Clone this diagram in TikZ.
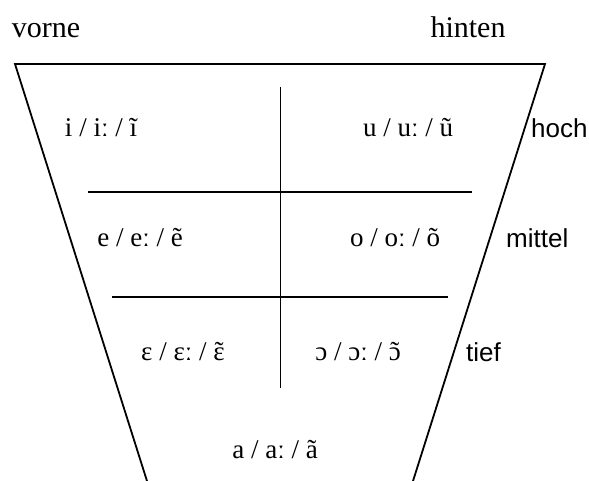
\documentclass[tikz,border=0pt]{standalone}
\usepackage{fontspec}
\setmainfont{Liberation Serif}
\setsansfont{Liberation Sans}
\usetikzlibrary{positioning}
\newcommand{\nasal}[1]{{\accent"02DC #1}}
\tikzset{
  rahmen/.style={line width=1.8pt, line cap=butt},
  achse/.style={font=\fontsize{30}{34}\selectfont, inner sep=0pt, anchor=base},
  laut/.style={font=\fontsize{27}{31}\selectfont, inner sep=0pt},
  hoehe/.style={font=\sffamily\fontsize{26}{30}\selectfont, inner sep=0pt, anchor=west},
}

\begin{document}
\begin{tikzpicture}[x=1pt, y=1pt]
  \useasboundingbox (0,0) rectangle (589,481);
  % Trapez
  \coordinate (tl) at (15,417);
  \coordinate (tr) at (545,417);
  \coordinate (bl) at (147,0);
  \coordinate (br) at (413,0);
  \draw[rahmen] (bl) -- (tl) -- (tr) -- (br);
  % Raster
  \coordinate (vo) at (280.5,394);
  \coordinate (vu) at (280.5,93);
  \coordinate (h1l) at (88,289);
  \coordinate (h1r) at (472,289);
  \coordinate (h2l) at (112,184);
  \coordinate (h2r) at (448,184);
  \draw[rahmen] (vo) -- (vu);
  \draw[rahmen] (h1l) -- (h1r);
  \draw[rahmen] (h2l) -- (h2r);
  % Achsen
  \node[achse] (vorne) at (46,443) {vorne};
  \node[achse] (hinten) at (468,443) {hinten};
  % Vokale
  \node[laut] (i) at (101,353) {i / iː / ĩ};
  \node[laut] (u) at (408,353) {u / uː / ũ};
  \node[laut] (e) at (140,243) {e / eː / ẽ};
  \node[laut] (o) at (395,243) {o / oː / õ};
  \node[laut] (eps) at (183,129) {ɛ / ɛː / \nasal{ɛ}};
  \node[laut] (oo) at (358,129) {ɔ / ɔː / \nasal{ɔ}};
  \node[laut] (a) at (275,31) {a / aː / ã};
  % Zungenhoehe
  \node[hoehe] (hoch) at (531,353) {hoch};
  \node[hoehe] (mittel) at (506,243) {mittel};
  \node[hoehe] (tief) at (466,129) {tief};
\end{tikzpicture}
\end{document}
